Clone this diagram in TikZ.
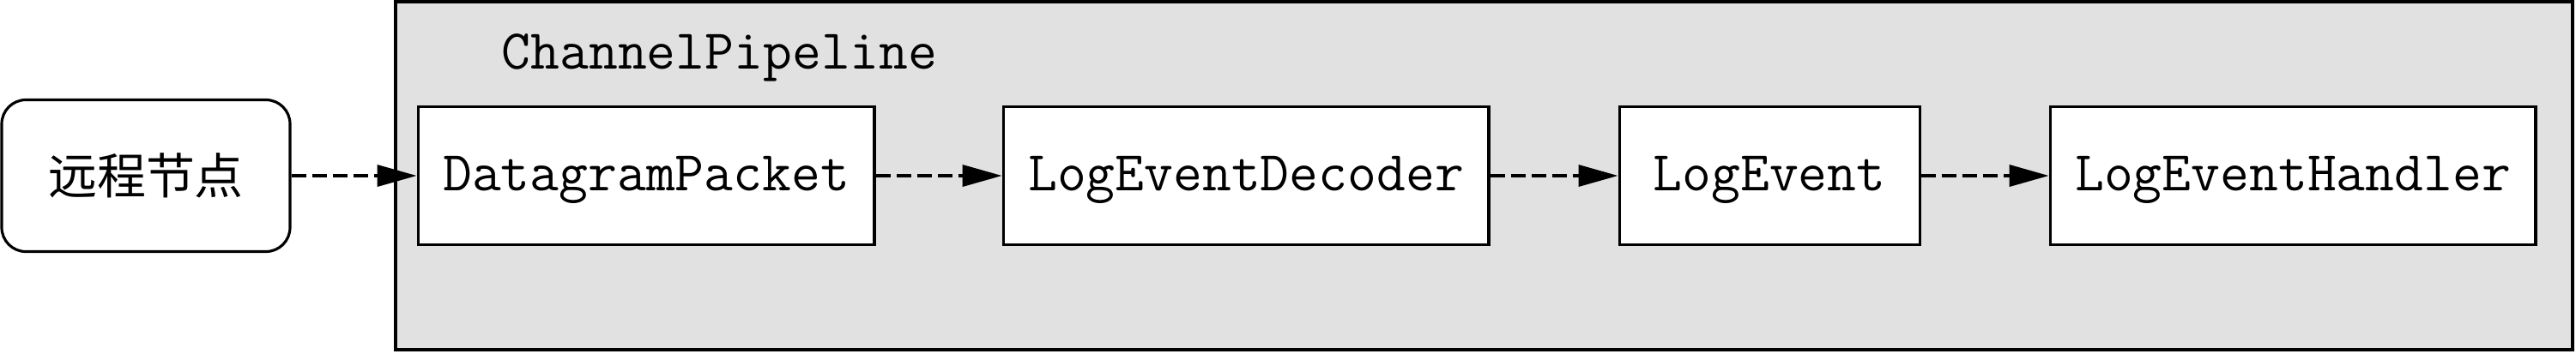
\documentclass[tikz,border=0pt]{standalone}
\usepackage{fontspec}
\newfontfamily\cjk{Noto Sans CJK SC}
\usepackage{tikz}
\usetikzlibrary{positioning,arrows.meta}
\definecolor{PipeGray}{RGB}{225,225,225}
\tikzset{
  pipebox/.style={draw=black,fill=PipeGray,line width=1pt,inner sep=0pt,
    minimum width=25.37cm,minimum height=4.06cm},
  peer/.style={draw=black,fill=white,rounded corners=8pt,line width=0.9pt,
    minimum width=3.36cm,minimum height=1.77cm,font=\cjk\fontsize{16.2}{18}\selectfont},
  stage/.style={draw=black,fill=white,line width=0.9pt,inner xsep=0.29cm,
    text height=0.46cm,text depth=0.12cm,minimum width=3.5cm,minimum height=1.61cm,
    font=\ttfamily\fontsize{18.7}{20}\selectfont},
  flow/.style={draw=black,line width=1pt,dash pattern=on 0.17cm off 0.07cm,
    -{Triangle[length=0.46cm,width=0.25cm]}},
}

\begin{document}
\begin{tikzpicture}
\useasboundingbox (0,0) rectangle (30.02,4.12);
\node[pipebox] (pipe) at (17.295,2.07) {};
\node[anchor=base west,inner sep=0pt,font=\ttfamily\fontsize{18.7}{20}\selectfont]
  (pipename) at (5.84,3.32) {ChannelPipeline};
\node[peer] (remote) at (1.70,2.07) {远程节点};
\node[stage,right=1.46cm of remote] (packet) {DatagramPacket};
\node[stage,right=1.47cm of packet] (decoder) {LogEventDecoder};
\node[stage,right=1.49cm of decoder] (event) {LogEvent};
\node[stage,right=1.49cm of event] (handler) {LogEventHandler};
\draw[flow] (remote) -- (packet);
\draw[flow] (packet) -- (decoder);
\draw[flow] (decoder) -- (event);
\draw[flow] (event) -- (handler);
\end{tikzpicture}
\end{document}
